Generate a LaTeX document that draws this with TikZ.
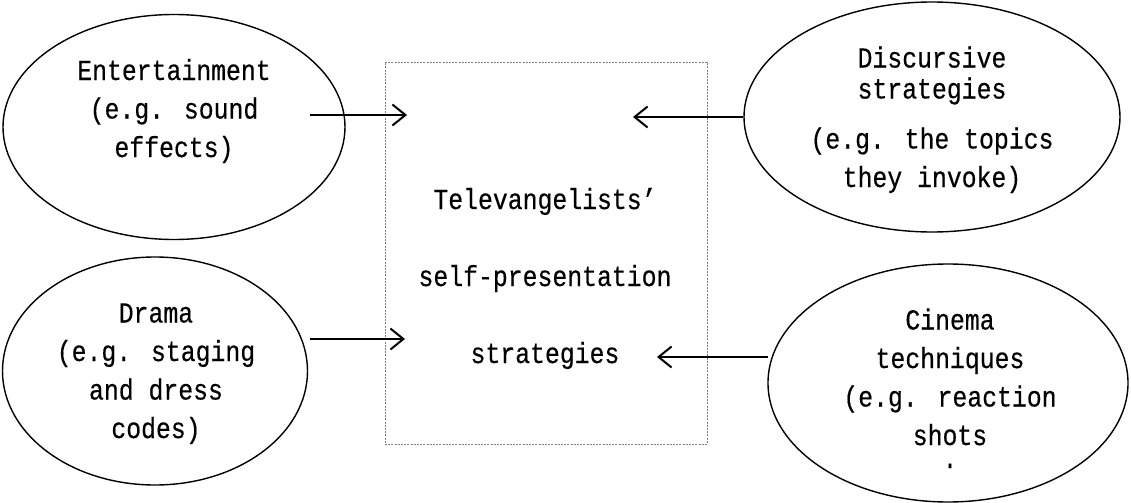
\documentclass[tikz,border=0pt]{standalone}
\usepackage{fontspec}
\setmainfont{Liberation Mono}[FakeStretch=0.855, FakeBold=0.4]
\usetikzlibrary{shapes.geometric, arrows.meta, positioning, calc}

\tikzset{
  topic/.style={ellipse, draw, line width=0.7pt, inner sep=0pt},
  txt/.style={align=center, inner sep=0pt, anchor=base,
    font=\fontsize{14.5}{19.25}\selectfont},
  flow/.style={-{Straight Barb[length=6.5pt,width=10.5pt]}, line width=1pt},
}

\begin{document}
\begin{tikzpicture}[x=0.5pt, y=-0.5pt]
\useasboundingbox (0,0) rectangle (1131,503);

% Central box (text is placed by its last baseline)
\node[draw=gray, dash pattern=on 1pt off 0.6pt, line width=0.5pt,
  minimum width=161pt, minimum height=191pt, inner sep=0pt] (box) at (546,253) {};
\node[txt] (tv) at (545,363) {Televangelists’\\[19.25pt]self-presentation\\[19.25pt]strategies};

% Entertainment
\node[topic, minimum width=171pt, minimum height=112.5pt] (ent) at (174,127) {};
\node[txt] (entT) at (174,157) {Entertainment\\(e.g. sound\\effects)};

% Drama
\node[topic, minimum width=152.5pt, minimum height=114pt] (dra) at (155,371) {};
\node[txt] (draT) at (156,438) {Drama\\(e.g. staging\\and dress\\codes)};

% Discursive strategies
\node[topic, minimum width=188pt, minimum height=115pt] (dis) at (932,117) {};
\node[txt] (disT) at (932,187) {Discursive\\[-3.75pt]strategies\\[5.75pt](e.g. the topics\\they invoke)};

% Cinema
\node[topic, minimum width=180pt, minimum height=119pt] (cin) at (948,383) {};
\node[txt] (cinT) at (950,468) {Cinema\\techniques\\(e.g. reaction\\shots\\[-7.75pt].};

% Arrows into the box
\coordinate (entS) at (310,115);
\coordinate (entE) at (407,115);
\coordinate (draS) at (310,339);
\coordinate (draE) at (405,339);
\coordinate (disE) at (633,117);
\coordinate (cinS) at (768,357);
\coordinate (cinE) at (657,357);
\draw[flow] (entS) -- (entE);
\draw[flow] (draS) -- (draE);
\draw[flow] (dis.west) -- (disE);
\draw[flow] (cinS) -- (cinE);
\end{tikzpicture}
\end{document}
